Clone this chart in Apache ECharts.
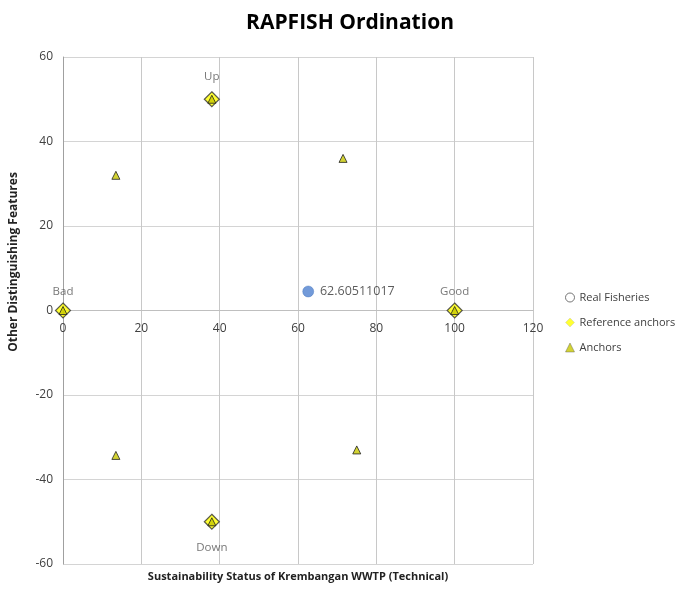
<!DOCTYPE html>
<html>
<head>
<meta charset="utf-8">
<script src="https://cdn.jsdelivr.net/npm/echarts@6/dist/echarts.min.js"></script>
<style>
  html, body { margin: 0; padding: 0; background: #fff; }
  #chart { width: 686px; height: 589px; }
</style>
</head>
<body>
<div id="chart"></div>
<script>
// values
var realFisheries = [[62.60511017, 4.5]];
var realLabels = ['62.60511017'];
var referenceAnchors = [[0, 0], [100, 0], [38, 50], [38, -50]];
var referenceLabels = ['Bad', 'Good', 'Up', 'Down'];
var anchors = [[0, 0], [100, 0], [38, 50], [38, -50],
               [13.5, 32], [71.5, 36], [13.5, -34.3], [75, -33]];
var xTicks = [0, 120, 20];   // min, max, interval
var yTicks = [-60, 60, 20];

var chart = echarts.init(document.getElementById('chart'));
var font = 'Open Sans';

// plot box
var gridTop = 57, gridBottom = 25;
var plotH = 589 - gridTop - gridBottom;
// x axis sits on y = 0 (middle of the symmetric y range)
var xOffset = -plotH * (0 - yTicks[0]) / (yTicks[1] - yTicks[0]);

var option = {
    backgroundColor: '#fff',
    textStyle: { fontFamily: font },
    animation: false,
    title: {
        text: 'RAPFISH Ordination',
        left: 345,
        textAlign: 'center',
        top: 8,
        textStyle: { fontFamily: font, fontSize: 21, fontWeight: 'bold', color: '#000' }
    },
    grid: { left: 63, right: 153, top: gridTop, bottom: gridBottom, outerBoundsMode: 'none', containLabel: false },
    legend: {
        orient: 'vertical',
        left: 560,
        top: 287,
        itemGap: 14,
        itemWidth: 9,
        itemHeight: 9,
        textStyle: { fontFamily: font, fontSize: 11, color: '#404040' },
        data: [
            { name: 'Real Fisheries', icon: 'circle', itemStyle: { color: '#fff', borderColor: '#555', borderWidth: 1 } },
            { name: 'Reference anchors', icon: 'diamond', itemStyle: { borderColor: '#bbb', borderWidth: 0.5 } },
            { name: 'Anchors', icon: 'triangle', itemStyle: { borderColor: '#555', borderWidth: 0.5 } }
        ]
    },
    graphic: [{
        type: 'text',
        x: 14,
        y: 262,
        rotation: Math.PI / 2,
        style: {
            text: 'Other Distinguishing Features',
            font: 'bold 12px "Open Sans"',
            fill: '#222',
            align: 'center',
            verticalAlign: 'middle'
        }
    }, {
        type: 'text',
        x: 298,
        y: 577,
        style: {
            text: 'Sustainability Status of Krembangan WWTP (Technical)',
            font: 'bold 11px "Open Sans"',
            fill: '#222',
            align: 'center',
            verticalAlign: 'middle'
        }
    }],
    xAxis: {
        type: 'value',
        min: xTicks[0], max: xTicks[1], interval: xTicks[2],
        position: 'bottom',
        offset: xOffset,
        axisLine: { onZero: false, lineStyle: { color: '#bfbfbf' } },
        axisTick: { show: false },
        axisLabel: { color: '#404040', fontSize: 12, margin: 12 },
        splitLine: { lineStyle: { color: '#c8c8c8' } }
    },
    yAxis: {
        type: 'value',
        min: yTicks[0], max: yTicks[1], interval: yTicks[2],
        axisLine: { show: true, onZero: false, lineStyle: { color: '#a0a0a0' } },
        axisTick: { show: false },
        axisLabel: { color: '#404040', fontSize: 12, margin: 10 },
        splitLine: { lineStyle: { color: '#d4d4d4' } }
    },
    series: [
        {
            name: 'Real Fisheries',
            type: 'scatter',
            symbol: 'circle',
            symbolSize: 11,
            itemStyle: { color: '#4f81d0', borderColor: '#3d6fb8', borderWidth: 0.5 },
            label: {
                show: true, position: 'right', distance: 6,
                fontFamily: font, fontSize: 12.5, color: '#333',
                formatter: function (p) { return realLabels[p.dataIndex]; }
            },
            data: realFisheries
        },
        {
            name: 'Reference anchors',
            type: 'scatter',
            symbol: 'diamond',
            symbolSize: 15,
            itemStyle: { color: '#ffff00', borderColor: '#333', borderWidth: 1.2 },
            label: {
                show: true,
                fontFamily: font, fontSize: 11.5, color: '#555',
                formatter: function (p) { return referenceLabels[p.dataIndex]; }
            },
            data: referenceAnchors.map(function (d, i) {
                var name = referenceLabels[i];
                var down = name === 'Down';
                return {
                    value: d,
                    label: { position: down ? 'bottom' : 'top', distance: down ? 12 : (name === 'Up' ? 8 : 5) }
                };
            }),
            z: 3
        },
        {
            name: 'Anchors',
            type: 'scatter',
            symbol: 'triangle',
            symbolSize: 8,
            itemStyle: { color: '#c8c800', borderColor: '#222', borderWidth: 1 },
            data: anchors,
            z: 4
        }
    ]
};

chart.setOption(option);
</script>
</body>
</html>
